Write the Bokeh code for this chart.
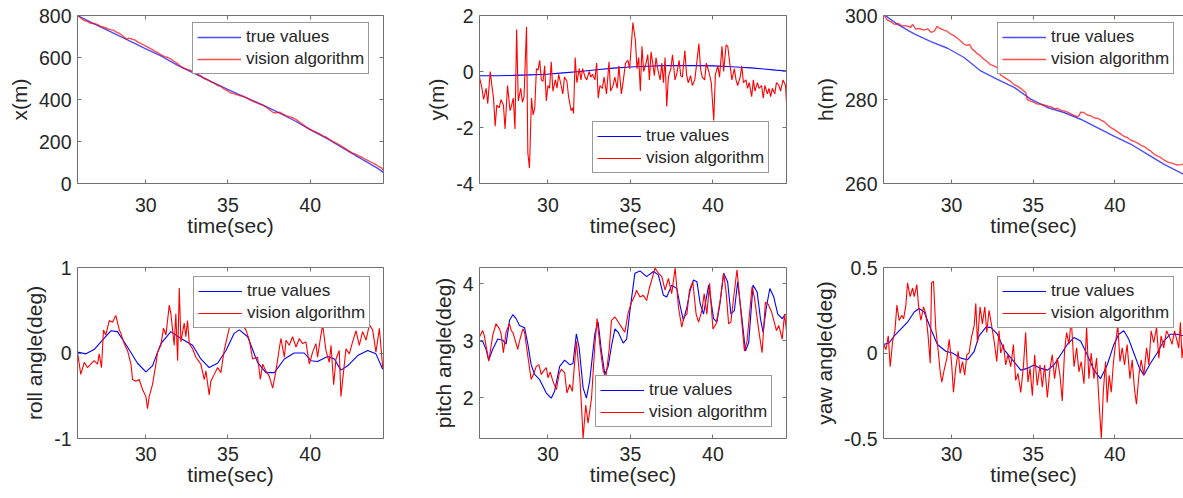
from bokeh.plotting import figure
from bokeh.layouts import column, row
from bokeh.models import Range1d, FixedTicker, LinearAxis
from bokeh.embed import file_html
from bokeh.resources import INLINE

# ---------------- data (time in s, value) ----------------
x_true = [(25.85, 800), (26.86, 760), (27.88, 722), (28.89, 684), (29.91, 645), (30.92, 608),
          (31.94, 563), (32.95, 525), (33.96, 486), (34.98, 448), (36.0, 413), (37.01, 378),
          (38.02, 340), (39.03, 300), (40.05, 254), (41.06, 212), (42.08, 165), (43.09, 118),
          (44.11, 72), (44.47, 52)]
x_vis = [(25.85, 800), (26.05, 788), (26.25, 776), (26.45, 772), (26.65, 763), (26.85, 762),
         (27.05, 758), (27.25, 748), (27.45, 744), (27.65, 738), (27.85, 733), (28.05, 729),
         (28.25, 720), (28.45, 712), (28.65, 700), (28.85, 686), (28.95, 692), (29.15, 688),
         (29.35, 683), (29.55, 672), (29.75, 665), (29.95, 656), (30.15, 648), (30.35, 640),
         (30.55, 630), (30.75, 622), (30.95, 612), (31.15, 604), (31.35, 600), (31.55, 592),
         (31.75, 580), (31.95, 570), (32.15, 556), (32.35, 548), (32.55, 542), (32.75, 538),
         (32.95, 528), (33.15, 520), (33.35, 512), (33.55, 500), (33.75, 494), (33.95, 485),
         (34.15, 478), (34.35, 468), (34.55, 463), (34.75, 450), (34.95, 442), (35.15, 432),
         (35.35, 428), (35.55, 422), (35.75, 418), (35.95, 414), (36.15, 406), (36.35, 398),
         (36.55, 390), (36.75, 384), (36.95, 377), (37.15, 372), (37.35, 362), (37.55, 350),
         (37.75, 338), (37.95, 336), (38.15, 340), (38.35, 330), (38.55, 322), (38.75, 318),
         (38.95, 312), (39.15, 304), (39.35, 292), (39.55, 282), (39.75, 270), (39.95, 260),
         (40.15, 252), (40.35, 245), (40.55, 238), (40.75, 228), (40.95, 222), (41.15, 212),
         (41.35, 202), (41.55, 193), (41.75, 185), (41.95, 176), (42.15, 166), (42.35, 155),
         (42.55, 146), (42.75, 140), (42.95, 132), (43.15, 125), (43.35, 116), (43.55, 108),
         (43.75, 100), (43.95, 92), (44.15, 82), (44.35, 74), (44.47, 62)]

y_true = [(25.85, -0.15), (26.86, -0.15), (27.88, -0.14), (28.89, -0.12), (29.91, -0.10),
          (30.92, -0.05), (31.94, 0.0), (32.95, 0.06), (33.96, 0.12), (34.98, 0.16),
          (36.0, 0.19), (37.01, 0.21), (38.02, 0.21), (39.03, 0.21), (40.05, 0.20),
          (40.86, 0.18), (41.67, 0.15), (42.3, 0.13), (43.09, 0.09), (43.8, 0.05), (44.47, 0.02)]
y_vis = [(25.85, -0.2), (26.0, -0.6), (26.1, -1.0), (26.25, -0.6), (26.35, -1.15), (26.5, 0.0),
         (26.6, -0.5), (26.7, -0.95), (26.8, -1.95), (26.9, -1.2), (27.05, -1.3), (27.15, -1.0),
         (27.3, -1.2), (27.4, -2.05), (27.55, -0.5), (27.7, -1.4), (27.8, -1.2), (27.9, -0.95),
         (28.0, -2.05), (28.1, 1.5), (28.2, -1.05), (28.35, -0.6), (28.45, -1.1), (28.55, -0.9),
         (28.7, 1.6), (28.78, -2.9), (28.88, -3.45), (29.0, -0.95), (29.1, -1.55), (29.2, -1.3),
         (29.3, 0.1), (29.4, 0.05), (29.5, 0.4), (29.6, -0.3), (29.7, -0.35), (29.8, 0.2),
         (29.9, -1.05), (30.0, -0.5), (30.1, -0.6), (30.2, 0.35), (30.3, -0.7), (30.45, -0.3),
         (30.55, -0.6), (30.65, -0.1), (30.8, -0.5), (30.9, -0.8), (31.0, -0.2), (31.15, -0.35),
         (31.25, -0.9), (31.4, -1.4), (31.5, -1.3), (31.55, -1.5), (31.65, 0.5), (31.75, -0.4),
         (31.9, 0.1), (32.0, -0.3), (32.1, 0.1), (32.25, -0.2), (32.35, -0.3), (32.5, 0.0),
         (32.6, -0.2), (32.7, -0.1), (32.85, -0.3), (32.95, 0.3), (33.05, -0.95), (33.15, -0.5),
         (33.3, -0.6), (33.4, -0.2), (33.55, -0.8), (33.7, 0.35), (33.8, -0.7), (33.95, -0.5),
         (34.05, -0.2), (34.2, -0.6), (34.3, 0.2), (34.45, -0.8), (34.55, -0.4), (34.7, 0.3),
         (34.85, 0.4), (34.95, 0.1), (35.15, 1.75), (35.3, 1.1), (35.4, 0.1), (35.5, 0.5),
         (35.6, -0.7), (35.7, 0.9), (35.8, 0.0), (35.95, 0.3), (36.05, 0.6), (36.15, -0.3),
         (36.25, 0.7), (36.35, 0.3), (36.45, -0.15), (36.55, 0.5), (36.65, 0.1), (36.8, -0.3),
         (36.9, 0.3), (37.0, -0.4), (37.1, 0.5), (37.2, -1.25), (37.3, -0.2), (37.45, 0.1),
         (37.55, 0.6), (37.7, -0.3), (37.8, -0.1), (37.95, 0.4), (38.05, -0.15), (38.15, -0.2),
         (38.3, 0.75), (38.4, -0.1), (38.5, -0.4), (38.65, -0.15), (38.75, -0.5), (38.9, -0.3),
         (39.0, 0.2), (39.15, 1.0), (39.25, 0.1), (39.35, -0.2), (39.5, -0.3), (39.6, 0.3),
         (39.75, 0.0), (39.9, -0.4), (40.05, -1.75), (40.15, -0.1), (40.3, 0.2), (40.4, -0.2),
         (40.55, 0.9), (40.65, 0.0), (40.8, 0.95), (40.9, 0.9), (41.0, 0.4), (41.15, -0.3),
         (41.3, 0.1), (41.4, -0.3), (41.5, -0.5), (41.65, -0.2), (41.75, 0.2), (41.85, -0.4),
         (42.0, -0.3), (42.1, -0.6), (42.2, -0.4), (42.35, -0.9), (42.45, -0.3), (42.55, -0.7),
         (42.7, -0.4), (42.8, -0.6), (42.95, -0.5), (43.05, -0.95), (43.15, -0.5), (43.3, -0.8),
         (43.4, -0.6), (43.5, -0.9), (43.6, -0.6), (43.75, -0.8), (43.85, -0.4), (44.0, -0.5),
         (44.1, -0.7), (44.25, -0.3), (44.4, -0.5), (44.47, -1.2)]

h_true = [(25.84, 300.3), (26.70, 297.9), (27.72, 295.6), (28.74, 293.8), (29.76, 292.2),
          (30.77, 290.0), (31.79, 286.8), (32.81, 284.8), (33.83, 282.9), (34.85, 280.1),
          (35.87, 278.1), (36.88, 276.9), (37.90, 275.3), (38.92, 273.3), (39.94, 271.3),
          (40.96, 269.4), (41.98, 267.0), (42.99, 264.6), (44.20, 262.2)]
h_vis = [(25.85, 300.2), (26.05, 299.0), (26.3, 298.5), (26.5, 297.9), (26.75, 298.1),
         (27.0, 297.5), (27.2, 297.6), (27.5, 297.2), (27.62, 297.9), (27.8, 296.8),
         (28.05, 296.9), (28.3, 296.5), (28.55, 296.8), (28.75, 296.0), (28.95, 296.3),
         (29.12, 297.4), (29.3, 296.9), (29.55, 296.5), (29.75, 296.2), (29.94, 295.6),
         (30.15, 295.2), (30.35, 294.6), (30.55, 294.0), (30.76, 293.2), (30.95, 292.9),
         (31.1, 293.1), (31.27, 292.0), (31.45, 291.4), (31.57, 290.9), (31.75, 290.5),
         (31.98, 289.6), (32.2, 289.0), (32.39, 288.3), (32.6, 288.0), (32.8, 287.6),
         (33.01, 285.8), (33.2, 285.4), (33.42, 284.8), (33.6, 284.4), (33.8, 283.6),
         (34.03, 283.2), (34.25, 282.6), (34.44, 282.0), (34.55, 281.6), (34.64, 280.0),
         (34.85, 279.6), (35.05, 279.3), (35.26, 278.9), (35.45, 278.9), (35.66, 278.7),
         (35.9, 278.4), (36.1, 278.3), (36.3, 277.8), (36.48, 277.9), (36.7, 277.4),
         (36.9, 277.3), (37.1, 277.0), (37.3, 276.6), (37.5, 276.2), (37.71, 275.9),
         (37.8, 276.1), (37.91, 277.0), (38.1, 276.9), (38.3, 276.3), (38.53, 276.1),
         (38.75, 275.6), (38.95, 275.5), (39.15, 275.1), (39.35, 274.7), (39.55, 274.0),
         (39.75, 273.3), (39.95, 272.9), (40.16, 272.3), (40.35, 271.8), (40.57, 271.2),
         (40.78, 270.9), (40.98, 270.3), (41.2, 270.0), (41.4, 269.6), (41.6, 269.1),
         (41.8, 268.8), (42.0, 268.2), (42.2, 267.7), (42.4, 267.0), (42.62, 266.5),
         (42.8, 266.2), (43.0, 265.6), (43.23, 265.1), (43.45, 264.9), (43.65, 264.6),
         (43.85, 264.4), (44.05, 264.5), (44.2, 264.6)]

roll_true = [(25.85, 0.01), (26.36, -0.01), (26.86, 0.04), (27.37, 0.15), (27.88, 0.26),
             (28.28, 0.25), (28.89, 0.07), (29.50, -0.12), (30.01, -0.22), (30.41, -0.15),
             (30.92, 0.11), (31.53, 0.25), (32.14, 0.17), (32.85, 0.09), (33.35, -0.07),
             (33.86, -0.17), (34.37, -0.12), (34.88, 0.03), (35.38, 0.23), (35.69, 0.27),
             (36.20, 0.19), (36.80, -0.11), (37.31, -0.23), (37.82, -0.23), (38.43, -0.07),
             (39.03, 0.00), (39.64, 0.00), (40.05, -0.09), (40.45, -0.10), (41.06, -0.04),
             (41.47, -0.07), (41.87, -0.20), (42.28, -0.15), (42.89, -0.03), (43.50, 0.03),
             (44.00, -0.01), (44.41, -0.19)]
roll_vis = [(25.85, 0.01), (26.05, -0.25), (26.26, -0.11), (26.46, -0.17), (26.66, -0.13),
            (26.86, -0.09), (27.07, -0.13), (27.17, -0.01), (27.31, -0.17), (27.43, 0.27),
            (27.57, 0.21), (27.78, 0.38), (27.98, 0.36), (28.18, 0.44), (28.39, 0.27),
            (28.49, 0.23), (28.69, 0.11), (28.89, 0.03), (29.10, -0.13), (29.20, -0.31),
            (29.40, -0.33), (29.60, -0.31), (29.81, -0.43), (30.01, -0.51), (30.11, -0.65),
            (30.21, -0.51), (30.41, -0.37), (30.62, -0.13), (30.72, 0.01), (30.92, 0.09),
            (31.08, 0.29), (31.23, 0.21), (31.43, 0.56), (31.53, 0.46), (31.73, 0.09),
            (31.83, 0.46), (31.94, -0.09), (32.04, 0.76), (32.14, 0.13), (32.34, 0.35),
            (32.44, 0.19), (32.54, 0.38), (32.65, 0.11), (32.85, 0.05), (33.05, -0.05),
            (33.35, -0.13), (33.56, -0.31), (33.66, -0.21), (33.86, -0.49), (33.96, -0.33),
            (34.17, -0.25), (34.37, -0.17), (34.57, -0.23), (34.77, 0.03), (35.08, 0.29),
            (35.28, 0.40), (35.48, 0.30), (35.69, 0.50), (35.89, 0.35), (35.99, 0.30),
            (36.09, 0.27), (36.30, 0.15), (36.50, -0.07), (36.80, -0.05), (36.97, -0.31),
            (37.11, -0.13), (37.31, -0.21), (37.51, -0.27), (37.72, -0.41), (37.92, -0.21),
            (38.12, 0.05), (38.22, 0.17), (38.43, -0.05), (38.53, 0.15), (38.73, 0.09),
            (38.93, 0.19), (39.14, 0.07), (39.34, 0.17), (39.54, 0.11), (39.74, 0.13),
            (39.95, -0.13), (40.15, 0.01), (40.35, 0.11), (40.45, -0.05), (40.62, 0.17),
            (40.76, 0.33), (40.96, 0.03), (41.16, -0.11), (41.27, 0.09), (41.43, -0.37),
            (41.57, -0.07), (41.77, 0.03), (41.87, -0.51), (42.08, -0.13), (42.18, 0.05),
            (42.38, -0.01), (42.58, 0.13), (42.79, 0.26), (42.99, 0.09), (43.19, 0.25),
            (43.40, 0.15), (43.60, 0.33), (43.80, 0.27), (44.00, 0.01), (44.21, 0.29),
            (44.41, -0.17)]

pitch_true = [(25.84, 3.00), (26.04, 2.99), (26.25, 2.85), (26.41, 2.66), (26.65, 2.85),
              (26.96, 3.03), (27.26, 3.01), (27.46, 2.94), (27.67, 3.36), (27.87, 3.46),
              (28.07, 3.39), (28.27, 3.27), (28.58, 3.23), (28.78, 2.94), (28.98, 2.58),
              (29.19, 2.41), (29.49, 2.32), (29.90, 2.08), (30.20, 1.99), (30.40, 2.11),
              (30.71, 2.55), (31.01, 2.66), (31.32, 2.58), (31.52, 2.60), (31.72, 3.12),
              (31.89, 2.88), (32.13, 2.17), (32.33, 1.99), (32.53, 2.29), (32.84, 3.12),
              (33.04, 3.33), (33.24, 2.82), (33.45, 2.41), (33.65, 2.55), (33.85, 2.91),
              (34.06, 3.21), (34.26, 3.15), (34.56, 2.96), (34.77, 3.03), (34.97, 3.53),
              (35.27, 4.19), (35.58, 4.23), (35.98, 4.13), (36.39, 4.22), (36.69, 4.16),
              (37.00, 3.80), (37.20, 3.77), (37.50, 3.98), (37.81, 3.92), (38.01, 3.62),
              (38.21, 3.36), (38.42, 3.59), (38.62, 3.89), (38.82, 4.07), (39.03, 4.04),
              (39.23, 3.65), (39.43, 3.47), (39.74, 3.98), (40.04, 3.39), (40.24, 3.33),
              (40.44, 3.68), (40.65, 4.19), (40.89, 4.04), (41.09, 3.47), (41.30, 3.53),
              (41.50, 4.04), (41.76, 3.39), (41.97, 2.82), (42.17, 2.97), (42.43, 3.98),
              (42.68, 3.86), (42.88, 3.39), (43.04, 3.15), (43.24, 3.59), (43.45, 3.92),
              (43.69, 3.77), (43.93, 3.47), (44.20, 3.39), (44.40, 3.47)]
pitch_vis = [(25.84, 3.06), (26.04, 3.18), (26.14, 3.09), (26.41, 2.64), (26.65, 3.09),
             (26.85, 3.30), (27.06, 3.21), (27.16, 3.12), (27.30, 2.79), (27.46, 3.15),
             (27.67, 3.30), (27.77, 3.18), (27.87, 3.15), (28.03, 2.99), (28.17, 2.85),
             (28.27, 2.99), (28.48, 3.21), (28.58, 3.15), (28.78, 2.73), (28.98, 2.32),
             (29.13, 2.41), (29.29, 2.55), (29.45, 2.58), (29.59, 2.41), (29.74, 2.47),
             (29.90, 2.53), (30.00, 2.35), (30.14, 2.45), (30.30, 2.29), (30.51, 2.14),
             (30.67, 2.41), (30.81, 2.50), (31.01, 2.44), (31.15, 2.08), (31.32, 2.23),
             (31.48, 2.11), (31.72, 2.99), (31.93, 2.35), (32.03, 1.87), (32.13, 1.28),
             (32.29, 1.87), (32.43, 1.55), (32.64, 1.99), (32.84, 2.91), (32.98, 3.39),
             (33.14, 2.94), (33.35, 2.47), (33.51, 2.35), (33.71, 2.85), (33.85, 3.36),
             (34.06, 3.42), (34.26, 3.33), (34.46, 3.24), (34.66, 3.15), (34.87, 3.50),
             (35.07, 3.68), (35.27, 3.80), (35.37, 3.89), (35.58, 3.77), (35.78, 3.80),
             (35.98, 3.71), (36.14, 3.92), (36.29, 4.07), (36.49, 4.28), (36.69, 4.19),
             (36.90, 4.13), (37.10, 3.89), (37.30, 4.10), (37.50, 3.83), (37.71, 4.28),
             (37.91, 3.59), (38.11, 3.24), (38.25, 3.42), (38.42, 3.47), (38.58, 3.89),
             (38.78, 4.04), (38.98, 3.47), (39.13, 3.33), (39.33, 3.53), (39.47, 3.83),
             (39.63, 3.47), (39.80, 4.01), (40.00, 3.21), (40.20, 3.30), (40.44, 3.71),
             (40.65, 4.19), (40.81, 3.83), (40.95, 3.30), (41.09, 3.33), (41.26, 3.77),
             (41.46, 4.25), (41.66, 3.62), (41.91, 2.82), (42.07, 3.00), (42.37, 3.95),
             (42.51, 3.77), (42.78, 3.18), (42.98, 2.79), (43.18, 3.68), (43.33, 3.65),
             (43.53, 3.53), (43.69, 3.36), (43.85, 3.18), (43.99, 3.27), (44.20, 3.03),
             (44.34, 3.47), (44.46, 3.18)]

yaw_true = [(25.85, 0.05), (26.19, 0.06), (26.50, 0.10), (26.90, 0.14), (27.31, 0.18),
            (27.72, 0.24), (28.02, 0.26), (28.33, 0.24), (28.74, 0.14), (29.14, 0.05),
            (29.65, 0.01), (30.06, 0.00), (30.57, -0.03), (30.98, -0.04), (31.39, 0.01),
            (31.69, 0.10), (32.10, 0.15), (32.40, 0.15), (32.81, 0.11), (33.22, 0.02),
            (33.73, -0.04), (34.24, -0.10), (34.64, -0.09), (35.05, -0.07), (35.46, -0.09),
            (35.87, -0.10), (36.27, -0.07), (36.68, -0.01), (37.09, 0.05), (37.50, 0.09),
            (37.90, 0.07), (38.31, -0.01), (38.72, -0.10), (39.12, -0.15), (39.53, -0.07),
            (39.94, 0.05), (40.24, 0.11), (40.55, 0.13), (40.85, 0.08), (41.16, 0.00),
            (41.47, -0.08), (41.77, -0.13), (42.18, -0.06), (42.59, 0.00), (42.99, 0.07),
            (43.40, 0.11), (43.81, 0.11), (44.20, 0.10)]
yaw_vis = [(25.85, 0.05), (25.99, 0.02), (26.13, 0.10), (26.25, -0.08), (26.40, 0.07),
           (26.54, 0.13), (26.66, 0.28), (26.80, 0.19), (26.95, 0.22), (27.07, 0.20),
           (27.21, 0.28), (27.31, 0.41), (27.47, 0.33), (27.62, 0.38), (27.72, 0.33),
           (27.88, 0.40), (27.98, 0.28), (28.13, 0.19), (28.29, 0.27), (28.43, 0.23),
           (28.57, 0.10), (28.70, -0.06), (28.78, 0.41), (28.90, 0.42), (29.04, 0.14),
           (29.19, 0.01), (29.31, -0.11), (29.41, -0.17), (29.55, -0.10), (29.72, -0.03),
           (29.86, 0.08), (30.00, -0.05), (30.12, -0.23), (30.26, -0.09), (30.41, 0.01),
           (30.53, -0.12), (30.67, -0.05), (30.81, -0.13), (30.94, -0.01), (31.08, 0.00),
           (31.22, 0.09), (31.39, 0.16), (31.49, 0.29), (31.59, 0.06), (31.75, 0.27),
           (31.89, 0.17), (32.04, 0.27), (32.16, 0.12), (32.30, 0.25), (32.44, 0.17),
           (32.61, 0.07), (32.77, -0.05), (32.91, 0.13), (33.01, 0.00), (33.18, 0.05),
           (33.32, -0.07), (33.46, -0.01), (33.63, -0.08), (33.79, 0.05), (33.93, -0.16),
           (34.07, -0.12), (34.24, -0.23), (34.40, -0.08), (34.54, 0.12), (34.68, -0.17),
           (34.81, -0.09), (34.95, -0.25), (35.09, -0.01), (35.25, -0.19), (35.42, -0.07),
           (35.56, -0.20), (35.70, -0.07), (35.87, -0.26), (36.03, -0.09), (36.17, -0.01),
           (36.31, -0.15), (36.48, -0.03), (36.64, -0.13), (36.78, -0.28), (36.92, 0.01),
           (37.05, 0.12), (37.19, 0.05), (37.33, 0.20), (37.50, -0.08), (37.66, 0.03),
           (37.80, -0.11), (37.94, -0.05), (38.11, -0.18), (38.27, 0.15), (38.41, -0.15),
           (38.55, 0.00), (38.72, -0.15), (38.88, -0.03), (39.02, -0.27), (39.17, -0.50),
           (39.29, -0.23), (39.43, -0.05), (39.53, -0.29), (39.65, -0.13), (39.78, -0.23),
           (39.90, -0.07), (40.04, 0.06), (40.18, 0.16), (40.31, -0.05), (40.45, 0.03),
           (40.59, -0.07), (40.75, 0.05), (40.92, -0.15), (41.06, -0.04), (41.20, -0.21),
           (41.32, -0.30), (41.47, -0.13), (41.61, -0.04), (41.77, -0.13), (41.94, 0.03),
           (42.08, -0.07), (42.22, 0.13), (42.38, 0.06), (42.55, 0.15), (42.69, -0.03),
           (42.83, 0.10), (42.99, 0.03), (43.16, 0.13), (43.36, 0.09), (43.50, 0.05),
           (43.65, 0.13), (43.81, 0.07), (43.91, 0.03), (44.01, 0.18), (44.11, -0.03),
           (44.20, 0.05)]

time_ticks = [30, 35, 40]
time_label = "time(sec)"
series_names = ["true values", "vision algorithm"]

FONT = "Liberation Sans"
TXT = "#262626"
AXC = "#707070"


def style_axis(ax, ticks, overrides, show_labels, standoff, label=None, label_standoff=0):
    ax.ticker = FixedTicker(ticks=ticks, minor_ticks=[])
    ax.major_tick_in = 4
    ax.major_tick_out = 0
    ax.minor_tick_in = 0
    ax.minor_tick_out = 0
    ax.axis_line_color = AXC
    ax.major_tick_line_color = AXC
    ax.major_label_text_font = FONT
    ax.major_label_text_color = TXT
    if show_labels:
        ax.major_label_text_font_size = "19.5px"
        ax.major_label_standoff = standoff
        ax.major_label_overrides = overrides
        if label:
            ax.axis_label = label
            ax.axis_label_text_font = FONT
            ax.axis_label_text_font_size = "21px"
            ax.axis_label_text_font_style = "normal"
            ax.axis_label_text_color = TXT
            ax.axis_label_standoff = label_standoff
    else:
        ax.major_label_text_font_size = "0px"
        ax.major_label_standoff = 0
        ax.major_label_overrides = {t: "" for t in ticks}


def panel(ylabel, true_pts, vis_pts, xr, yr, yticks, ylabels, leg_xy,
          left, fw, right, top, fh, bottom, xstand, mirror_right=True, lw=1.1, alpha=1.0):
    p = figure(frame_width=fw, frame_height=fh,
               min_border_left=left, min_border_right=right,
               min_border_top=top, min_border_bottom=bottom,
               x_range=Range1d(*xr), y_range=Range1d(*yr),
               output_backend="svg", toolbar_location=None, tools="")
    p.outline_line_color = None
    p.grid.visible = False
    p.background_fill_color = "white"
    p.border_fill_color = "white"
    tt, tv = zip(*true_pts)
    vt, vv = zip(*vis_pts)
    p.line(list(tt), list(tv), line_color="#0000ff", line_width=lw, line_alpha=alpha,
           legend_label=series_names[0])
    p.line(list(vt), list(vv), line_color="#ff0000", line_width=lw, line_alpha=alpha,
           legend_label=series_names[1])

    xover = {t: str(t) for t in time_ticks}
    yover = dict(zip(yticks, ylabels))
    style_axis(p.xaxis[0], time_ticks, xover, True, xstand, time_label, -1)
    style_axis(p.yaxis[0], yticks, yover, True, 6, ylabel, 5)

    top_ax = LinearAxis()
    style_axis(top_ax, time_ticks, xover, False, 0)
    p.add_layout(top_ax, "above")
    if mirror_right:
        right_ax = LinearAxis()
        style_axis(right_ax, yticks, yover, False, 0)
        p.add_layout(right_ax, "right")

    lg = p.legend[0]
    lg.location = leg_xy
    lg.label_text_font = FONT
    lg.label_text_font_size = "17px"
    lg.label_text_color = TXT
    lg.glyph_width = 44
    lg.glyph_height = 20
    lg.label_height = 20
    lg.label_standoff = 5
    lg.spacing = 2
    lg.padding = 4
    lg.margin = 0
    lg.border_line_color = "#333333"
    lg.border_line_width = 1
    lg.background_fill_color = "white"
    lg.background_fill_alpha = 1.0
    return p


XR = (25.85, 44.46)
XR3 = (25.84, 44.2)

p1 = panel("x(m)", x_true, x_vis, XR, (0, 800), [0, 200, 400, 600, 800],
           ["0", "200", "400", "600", "800"], (115, 109),
           77, 306, 17, 15, 168, 67, 14, lw=1.4, alpha=0.7)
p2 = panel("y(m)", y_true, y_vis, XR, (-4, 2), [-4, -2, 0, 2],
           ["-4", "-2", "0", "2"], (113, 10),
           79, 307, 4, 15, 168, 67, 14)
p3 = panel("h(m)", h_true, h_vis, XR3, (260, 300), [260, 280, 300],
           ["260", "280", "300"], (114, 109),
           93, 300, 0, 15, 168, 67, 14, mirror_right=False, lw=1.4, alpha=0.7)
p4 = panel("roll angle(deg)", roll_true, roll_vis, XR, (-1, 1), [-1, 0, 1],
           ["-1", "0", "1"], (116, 110),
           77, 306, 17, 17, 171, 60, 8)
p5 = panel("pitch angle(deg)", pitch_true, pitch_vis, XR, (1.28, 4.29), [2, 3, 4],
           ["2", "3", "4"], (116, 11),
           79, 307, 4, 17, 171, 60, 8)
p6 = panel("yaw angle(deg)", yaw_true, yaw_vis, XR3, (-0.5, 0.5), [-0.5, 0, 0.5],
           ["-0.5", "0", "0.5"], (114, 110),
           93, 300, 0, 17, 171, 60, 8, mirror_right=False)

layout = column(row(p1, p2, p3), row(p4, p5, p6))
open("out.html", "w").write(file_html(layout, INLINE))
